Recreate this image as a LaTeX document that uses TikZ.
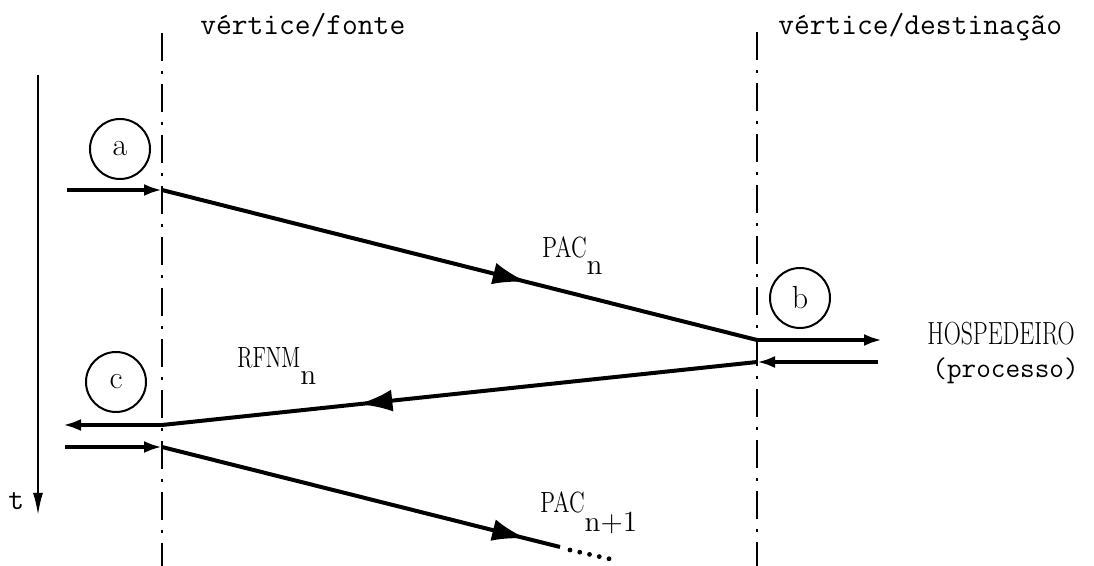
\documentclass[tikz,border=0pt]{standalone}
\usepackage{fontspec}
\usetikzlibrary{arrows.meta,decorations.markings}
% horizontally condensed roman capitals
\newcommand\narrow[2]{\scalebox{#1}[1]{#2}}

\begin{document}
\begin{tikzpicture}[x=0.5pt,y=-0.5pt,
  guide/.style={line width=1.3pt, dash pattern=on 14pt off 5pt on 1.5pt off 5pt},
  msg/.style={line width=2pt},
  link/.style={line width=2pt,-{Latex[length=9pt,width=6pt]}},
  axis/.style={line width=1pt,-{Latex[length=11pt,width=5pt]}},
  tag/.style={circle,draw,line width=1pt,minimum size=30pt,inner sep=0pt,
    font=\rmfamily\fontsize{16}{16}\selectfont},
  tw/.style={font=\ttfamily\fontsize{15.3}{15.3}\selectfont, inner sep=0pt, anchor=base west},
  rm/.style={font=\rmfamily\fontsize{14.6}{14.6}\selectfont, inner sep=0pt, anchor=base west},
  dots/.style={line width=2.4pt, line cap=round, dash pattern=on 0pt off 5pt},
  midarrow/.style={postaction={decorate},
    decoration={markings,mark=at position #1 with {\arrow{Latex[length=17pt,width=11pt]}}}}
]
\useasboundingbox (0,0) rectangle (1094,566);

% the two stations
\coordinate (srcTop) at (162,33);
\coordinate (srcBot) at (162,566);
\coordinate (dstTop) at (757,32);
\coordinate (dstBot) at (757,566);
\draw[guide] (srcTop) -- (srcBot);
\draw[guide] (dstTop) -- (dstBot);
\node[tw] (lsrc) at (200,35) {vértice/fonte};
\node[tw] (ldst) at (778,35) {vértice/destinação};

% time axis
\coordinate (t0) at (38,75);
\coordinate (t1) at (38,515);
\draw[axis] (t0) -- (t1);
\node[tw] (tl) at (8,510) {t};

% events
\node[tag] (a) at (120,149) {a};
\node[tag] (b) at (800,298) {b};
\node[tag] (c) at (116,382) {c};

% message points
\coordinate (in1) at (67,190);
\coordinate (s1) at (162,190);
\coordinate (d1) at (757,340);
\coordinate (h1) at (882,340);
\coordinate (h2) at (878,362);
\coordinate (d2) at (757,362);
\coordinate (s2) at (162,425);
\coordinate (out2) at (63,425);
\coordinate (in3) at (65,447);
\coordinate (s3) at (162,447);
\coordinate (p3) at (560,547);
\coordinate (p3b) at (570,550);
\coordinate (p4) at (610,559);

% packet n
\draw[link] (in1) -- (s1);
\draw[msg,midarrow=0.613] (s1) -- (d1);
\node[rm] (pacn) at (542,258) {\narrow{0.76}{PAC}\raisebox{-8.5pt}{n}};
\draw[link] (d1) -- (h1);

% RFNM back to the source
\draw[link] (h2) -- (d2);
\draw[msg,midarrow=0.67] (d2) -- (s2);
\node[rm] (rfnm) at (237,368) {\narrow{0.72}{RFNM}\raisebox{-8.5pt}{n}};
\draw[link] (s2) -- (out2);

% packet n+1
\draw[link] (in3) -- (s3);
\draw[msg,midarrow=0.915] (s3) -- (p3);
\draw[dots] (p3b) -- (p4);
\node[rm] (pacn1) at (540,513) {\narrow{0.76}{PAC}\raisebox{-9.5pt}{n+1}};

% host
\node[rm,font=\rmfamily\fontsize{16}{16}\selectfont] (host) at (927,345) {\narrow{0.74}{HOSPEDEIRO}};
\node[tw,font=\ttfamily\fontsize{14.2}{14.2}\selectfont] (proc) at (932,378) {(processo)};
\end{tikzpicture}
\end{document}
